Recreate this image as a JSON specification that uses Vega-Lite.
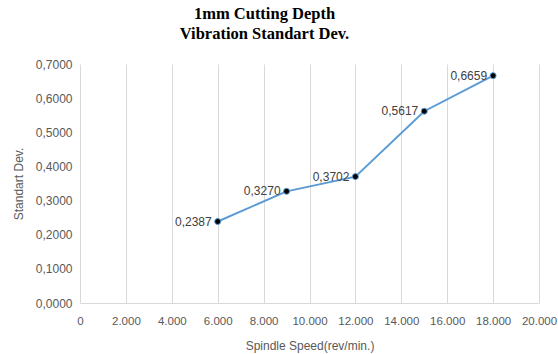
{
  "$schema": "https://vega.github.io/schema/vega-lite/v6.json",
  "width": 459,
  "height": 239,
  "autosize": {"type": "none"},
  "padding": {"left": 80, "top": 64, "right": 19, "bottom": 51},
  "background": "white",
  "config": {
    "locale": {
      "number": {"decimal": ",", "thousands": ".", "grouping": [3], "currency": ["", ""]}
    },
    "view": {"stroke": null},
    "font": "Liberation Sans"
  },
  "title": {
    "text": ["1mm Cutting Depth", "Vibration Standart Dev."],
    "font": "Liberation Serif",
    "fontSize": 16.5,
    "fontWeight": "bold",
    "color": "#000000",
    "lineHeight": 20,
    "anchor": "middle",
    "dx": -45,
    "offset": 16
  },
  "data": {
    "values": [
      {"speed": 6000, "sd": 0.2387},
      {"speed": 9000, "sd": 0.3270},
      {"speed": 12000, "sd": 0.3702},
      {"speed": 15000, "sd": 0.5617},
      {"speed": 18000, "sd": 0.6659}
    ]
  },
  "encoding": {
    "x": {
      "field": "speed",
      "type": "quantitative",
      "scale": {"domain": [0, 20000], "nice": false},
      "axis": {
        "title": "Spindle Speed(rev/min.)",
        "values": [0, 2000, 4000, 6000, 8000, 10000, 12000, 14000, 16000, 18000, 20000],
        "format": ",.0f",
        "labelOverlap": false,
        "labelBound": false,
        "labelFlush": false,
        "grid": true,
        "gridColor": "#D9D9D9",
        "gridWidth": 1,
        "domainColor": "#D9D9D9",
        "ticks": false,
        "labelColor": "#595959",
        "labelFontSize": 11.5,
        "labelPadding": 12,
        "titleColor": "#595959",
        "titleFontSize": 12,
        "titleFontWeight": "normal",
        "titlePadding": 14
      }
    },
    "y": {
      "field": "sd",
      "type": "quantitative",
      "scale": {"domain": [0, 0.7], "nice": false},
      "axis": {
        "title": "Standart Dev.",
        "values": [0, 0.1, 0.2, 0.3, 0.4, 0.5, 0.6, 0.7],
        "format": ".4f",
        "labelOverlap": false,
        "labelFlush": false,
        "grid": false,
        "domain": false,
        "ticks": false,
        "labelColor": "#595959",
        "labelFontSize": 12,
        "labelPadding": 8,
        "titleColor": "#595959",
        "titleFontSize": 12,
        "titleFontWeight": "normal",
        "titlePadding": 10
      }
    }
  },
  "layer": [
    {
      "mark": {"type": "line", "color": "#5B9BD5", "strokeWidth": 2}
    },
    {
      "mark": {"type": "point", "filled": true, "fill": "#000000", "stroke": "#5B9BD5", "strokeWidth": 1, "size": 36, "opacity": 1}
    },
    {
      "mark": {"type": "text", "align": "right", "baseline": "middle", "dx": -6, "fontSize": 12, "color": "#404040"},
      "encoding": {"text": {"field": "sd", "type": "quantitative", "format": ".4f"}}
    }
  ]
}
